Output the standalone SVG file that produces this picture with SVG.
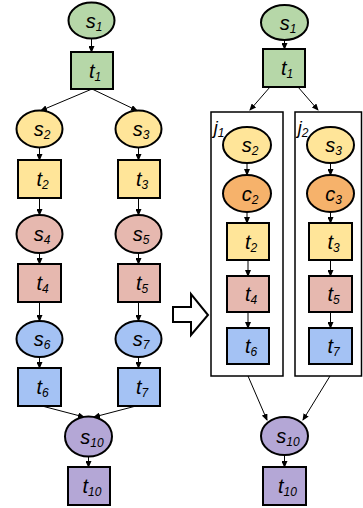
<svg xmlns="http://www.w3.org/2000/svg" width="363" height="508" viewBox="0 0 363 508">
<style>
.n{stroke:#000;stroke-width:2}
.g{fill:#b6d7a8}.y{fill:#ffe599}.p{fill:#e6b8af}.b{fill:#a4c2f4}.v{fill:#b4a7d6}.o{fill:#f6b26b}
.box{fill:none;stroke:#000;stroke-width:1.5}
.l{font-family:"Liberation Sans",Arial,sans-serif;font-style:italic;font-size:20px;fill:#000;text-anchor:middle}
.sub{font-size:12px}
.c line{stroke:#000;stroke-width:1;marker-end:url(#ah)}
</style>
<defs>
<marker id="ah" markerUnits="userSpaceOnUse" markerWidth="7" markerHeight="6" refX="6" refY="3" orient="auto">
<path d="M0,0 L7,3 L0,6 Z" fill="#000"/>
</marker>
</defs>
<g id="connectors" class="c">
<line x1="91.5" y1="38.5" x2="91.5" y2="52"/>
<line x1="92" y1="89" x2="41" y2="110.5"/>
<line x1="92" y1="89" x2="137" y2="110.5"/>
<line x1="39.5" y1="147.5" x2="39.5" y2="160"/>
<line x1="138.5" y1="147.5" x2="138.5" y2="160"/>
<line x1="39.5" y1="198" x2="39.5" y2="215"/>
<line x1="138.5" y1="198" x2="138.5" y2="215"/>
<line x1="39.5" y1="253" x2="39.5" y2="264"/>
<line x1="138.5" y1="253" x2="138.5" y2="264"/>
<line x1="39.5" y1="302" x2="39.5" y2="321"/>
<line x1="138.5" y1="302" x2="138.5" y2="321"/>
<line x1="39.5" y1="357" x2="39.5" y2="368"/>
<line x1="138.5" y1="357" x2="138.5" y2="368"/>
<line x1="42" y1="406" x2="84" y2="417"/>
<line x1="136" y1="406" x2="94" y2="417"/>
<line x1="88.5" y1="456.5" x2="88.5" y2="467"/>
<line x1="284.5" y1="40" x2="284.5" y2="49"/>
<line x1="270" y1="87" x2="250" y2="110"/>
<line x1="298" y1="87" x2="318" y2="110"/>
<line x1="247" y1="163" x2="247" y2="175"/>
<line x1="330.5" y1="163" x2="330.5" y2="175"/>
<line x1="247" y1="212" x2="247" y2="223"/>
<line x1="330.5" y1="212" x2="330.5" y2="223"/>
<line x1="248" y1="260" x2="248" y2="276"/>
<line x1="330.5" y1="260" x2="330.5" y2="276"/>
<line x1="248" y1="312" x2="248" y2="328"/>
<line x1="330.5" y1="312" x2="330.5" y2="328"/>
<line x1="248" y1="376" x2="267" y2="420"/>
<line x1="330" y1="376" x2="303" y2="420"/>
<line x1="284.5" y1="455" x2="284.5" y2="467"/>
</g>
<!-- left graph -->
<g id="L_s1"><ellipse class="n g" cx="91.5" cy="20.5" rx="23" ry="18"/><text class="l" x="94" y="27.5">s<tspan class="sub" dy="3">1</tspan></text></g>
<g id="L_t1"><rect class="n g" x="71" y="52" width="42" height="37"/><text class="l" x="95" y="77.5">t<tspan class="sub" dy="3">1</tspan></text></g>
<g id="L_s2"><ellipse class="n y" cx="39.5" cy="129" rx="23" ry="18.5"/><text class="l" x="42" y="136">s<tspan class="sub" dy="3">2</tspan></text></g>
<g id="L_s3"><ellipse class="n y" cx="138.5" cy="129" rx="23" ry="18.5"/><text class="l" x="141" y="136">s<tspan class="sub" dy="3">3</tspan></text></g>
<g id="L_t2"><rect class="n y" x="18" y="160" width="43" height="38"/><text class="l" x="42.5" y="186">t<tspan class="sub" dy="3">2</tspan></text></g>
<g id="L_t3"><rect class="n y" x="118" y="160" width="42" height="38"/><text class="l" x="142" y="186">t<tspan class="sub" dy="3">3</tspan></text></g>
<g id="L_s4"><ellipse class="n p" cx="39.5" cy="234" rx="23" ry="19"/><text class="l" x="42" y="241">s<tspan class="sub" dy="3">4</tspan></text></g>
<g id="L_s5"><ellipse class="n p" cx="138.5" cy="234" rx="23" ry="19"/><text class="l" x="141" y="241">s<tspan class="sub" dy="3">5</tspan></text></g>
<g id="L_t4"><rect class="n p" x="18" y="264" width="43" height="38"/><text class="l" x="42.5" y="290">t<tspan class="sub" dy="3">4</tspan></text></g>
<g id="L_t5"><rect class="n p" x="118" y="264" width="42" height="38"/><text class="l" x="142" y="290">t<tspan class="sub" dy="3">5</tspan></text></g>
<g id="L_s6"><ellipse class="n b" cx="39.5" cy="339" rx="23" ry="18"/><text class="l" x="42" y="346">s<tspan class="sub" dy="3">6</tspan></text></g>
<g id="L_s7"><ellipse class="n b" cx="138.5" cy="339" rx="23" ry="18"/><text class="l" x="141" y="346">s<tspan class="sub" dy="3">7</tspan></text></g>
<g id="L_t6"><rect class="n b" x="18" y="368" width="43" height="38"/><text class="l" x="42.5" y="394">t<tspan class="sub" dy="3">6</tspan></text></g>
<g id="L_t7"><rect class="n b" x="118" y="368" width="42" height="38"/><text class="l" x="142" y="394">t<tspan class="sub" dy="3">7</tspan></text></g>
<g id="L_s10"><ellipse class="n v" cx="88.5" cy="436.5" rx="23.5" ry="20"/><text class="l" x="92" y="443.5">s<tspan class="sub" dy="3">10</tspan></text></g>
<g id="L_t10"><rect class="n v" x="68" y="467" width="42" height="38"/><text class="l" x="92" y="493">t<tspan class="sub" dy="3">10</tspan></text></g>
<!-- transform arrow -->
<g id="arrow"><polygon points="173,307 191,307 191,294 208,315 191,335 191,322 173,322" fill="#fff" stroke="#000" stroke-width="2" stroke-linejoin="miter"/></g>
<!-- right graph -->
<g id="R_s1"><ellipse class="n g" cx="284.5" cy="22.5" rx="23.5" ry="17.5"/><text class="l" x="288" y="29.5">s<tspan class="sub" dy="3">1</tspan></text></g>
<g id="R_t1"><rect class="n g" x="263" y="49" width="42" height="38"/><text class="l" x="287" y="75">t<tspan class="sub" dy="3">1</tspan></text></g>
<g id="j1"><rect class="box" x="211" y="112" width="72" height="264"/><text class="l" x="219" y="134" style="font-size:18px">j<tspan class="sub" dy="3">1</tspan></text></g>
<g id="j2"><rect class="box" x="295" y="112" width="66.5" height="264"/><text class="l" x="303" y="134" style="font-size:18px">j<tspan class="sub" dy="3">2</tspan></text></g>
<g id="R_s2"><ellipse class="n y" cx="247" cy="145" rx="24" ry="18"/><text class="l" x="250" y="152">s<tspan class="sub" dy="3">2</tspan></text></g>
<g id="R_s3"><ellipse class="n y" cx="330.5" cy="145" rx="23.5" ry="18"/><text class="l" x="333.5" y="152">s<tspan class="sub" dy="3">3</tspan></text></g>
<g id="R_c2"><ellipse class="n o" cx="247" cy="193.5" rx="24" ry="18.5"/><text class="l" x="250" y="200.5">c<tspan class="sub" dy="3">2</tspan></text></g>
<g id="R_c3"><ellipse class="n o" cx="330.5" cy="193.5" rx="23.5" ry="18.5"/><text class="l" x="333.5" y="200.5">c<tspan class="sub" dy="3">3</tspan></text></g>
<g id="R_t2"><rect class="n y" x="227" y="223" width="42" height="37"/><text class="l" x="251" y="248.5">t<tspan class="sub" dy="3">2</tspan></text></g>
<g id="R_t3"><rect class="n y" x="309" y="223" width="43" height="37"/><text class="l" x="333.5" y="248.5">t<tspan class="sub" dy="3">3</tspan></text></g>
<g id="R_t4"><rect class="n p" x="227" y="276" width="42" height="36"/><text class="l" x="251" y="301">t<tspan class="sub" dy="3">4</tspan></text></g>
<g id="R_t5"><rect class="n p" x="309" y="276" width="43" height="36"/><text class="l" x="333.5" y="301">t<tspan class="sub" dy="3">5</tspan></text></g>
<g id="R_t6"><rect class="n b" x="227" y="328" width="42" height="36"/><text class="l" x="251" y="353">t<tspan class="sub" dy="3">6</tspan></text></g>
<g id="R_t7"><rect class="n b" x="309" y="328" width="43" height="36"/><text class="l" x="333.5" y="353">t<tspan class="sub" dy="3">7</tspan></text></g>
<g id="R_s10"><ellipse class="n v" cx="284.5" cy="436" rx="23.5" ry="19"/><text class="l" x="288" y="443">s<tspan class="sub" dy="3">10</tspan></text></g>
<g id="R_t10"><rect class="n v" x="263" y="467" width="43" height="38"/><text class="l" x="287.5" y="493">t<tspan class="sub" dy="3">10</tspan></text></g>
</svg>
